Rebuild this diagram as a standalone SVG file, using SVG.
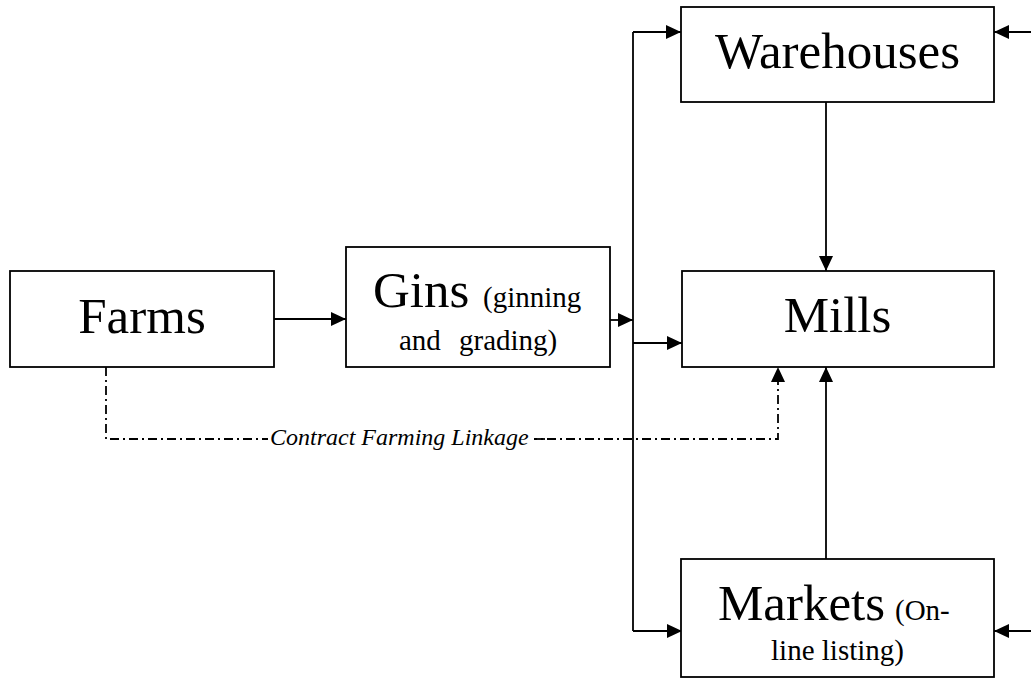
<svg xmlns="http://www.w3.org/2000/svg" width="1031" height="679" viewBox="0 0 1031 679">
<style>
.box{fill:#fff;stroke:#000;stroke-width:1.8}
.big{font-family:"Liberation Serif","Times New Roman",serif;font-size:51px;fill:#000}
.small{font-family:"Liberation Serif","Times New Roman",serif;font-size:29px;fill:#000}
.lbl{font-family:"Liberation Serif","Times New Roman",serif;font-style:italic;font-size:24px;fill:#000}
.c{fill:none;stroke:#000;stroke-width:1.8}
.dd{fill:none;stroke:#000;stroke-width:1.8;stroke-dasharray:9 4 2 4}
</style>
<defs>
<marker id="ah" markerUnits="userSpaceOnUse" markerWidth="16" markerHeight="15" refX="15" refY="7" orient="auto">
<path d="M0,0 L15,7 L0,14 z" fill="#000"/>
</marker>
</defs>
<rect width="1031" height="679" fill="#fff"/>
<g id="connectors">
<path class="c" d="M274,319 H346" marker-end="url(#ah)"/>
<path class="c" d="M610,320 H633" marker-end="url(#ah)"/>
<path class="c" d="M633,32 V631"/>
<path class="c" d="M633,32 H681" marker-end="url(#ah)"/>
<path class="c" d="M633,343 H682" marker-end="url(#ah)"/>
<path class="c" d="M633,631 H682" marker-end="url(#ah)"/>
<path class="c" d="M826,102 V271" marker-end="url(#ah)"/>
<path class="c" d="M826,559 V367" marker-end="url(#ah)"/>
<path class="c" d="M1031,32 H994" marker-end="url(#ah)"/>
<path class="c" d="M1031,631 H994" marker-end="url(#ah)"/>
<path class="dd" d="M106,367 V439 H778 V367" marker-end="url(#ah)"/>
<rect x="268" y="426" width="266" height="26" fill="#fff"/>
<text class="lbl" x="270" y="445">Contract Farming Linkage</text>
<path class="c" d="M537,439 H545"/>
</g>
<g id="farms">
<rect class="box" x="10" y="271" width="264" height="96"/>
<text class="big" x="142" y="333" text-anchor="middle">Farms</text>
</g>
<g id="gins">
<rect class="box" x="346" y="247" width="264" height="120"/>
<text class="big" x="373" y="307">Gins</text>
<text class="small" x="483" y="307">(ginning</text>
<text class="small" x="399" y="350">and</text>
<text class="small" x="459" y="350">grading)</text>
</g>
<g id="warehouses">
<rect class="box" x="681" y="7" width="313" height="95"/>
<text class="big" x="837.5" y="68" text-anchor="middle">Warehouses</text>
</g>
<g id="mills">
<rect class="box" x="682" y="271" width="312" height="96"/>
<text class="big" x="837.5" y="332" text-anchor="middle">Mills</text>
</g>
<g id="markets">
<rect class="box" x="681" y="559" width="313" height="118"/>
<text class="big" x="718" y="620">Markets</text>
<text class="small" x="895" y="620">(On-</text>
<text class="small" x="837.5" y="660" text-anchor="middle">line listing)</text>
</g>
</svg>
